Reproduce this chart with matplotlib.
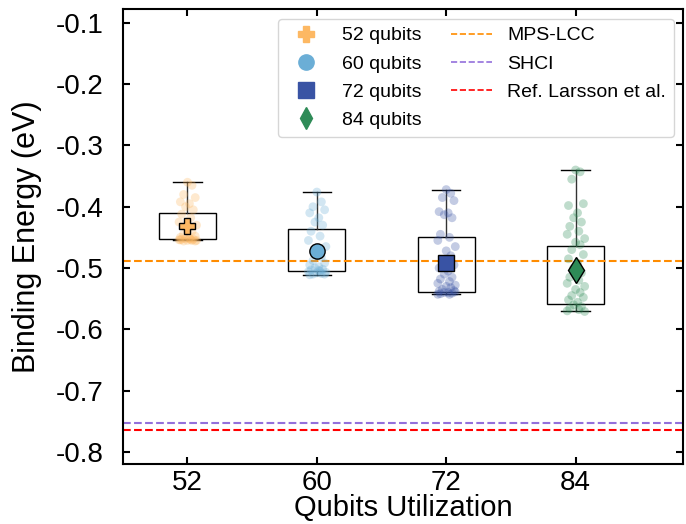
import matplotlib.pyplot as plt
from matplotlib.lines import Line2D

plt.rcParams['font.family'] = ['Liberation Sans', 'DejaVu Sans']

# Data
qubits = ['52', '60', '72', '84']
colors = ['#fdb863', '#6baed6', '#3953a4', '#2e8b57']
markers = ['P', 'o', 's', 'd']

pts_52 = [-0.360, -0.365, -0.380, -0.385, -0.392, -0.395, -0.400, -0.405, -0.412, -0.418,
          -0.425, -0.430, -0.436, -0.440, -0.445, -0.448, -0.450, -0.451, -0.452, -0.453,
          -0.453, -0.454, -0.454, -0.455, -0.455, -0.455, -0.456, -0.456, -0.454, -0.452]
pts_60 = [-0.376, -0.392, -0.400, -0.405, -0.410, -0.418, -0.425, -0.430, -0.440, -0.448,
          -0.455, -0.465, -0.475, -0.482, -0.488, -0.492, -0.495, -0.498, -0.500, -0.502,
          -0.503, -0.505, -0.506, -0.507, -0.508, -0.509, -0.510, -0.510, -0.511, -0.504]
pts_72 = [-0.372, -0.378, -0.385, -0.390, -0.408, -0.410, -0.413, -0.418, -0.445, -0.450,
          -0.455, -0.465, -0.472, -0.480, -0.488, -0.495, -0.500, -0.505, -0.510, -0.515,
          -0.518, -0.522, -0.525, -0.528, -0.530, -0.532, -0.535, -0.537, -0.538, -0.540,
          -0.540, -0.541, -0.542, -0.543, -0.543, -0.539]
pts_84 = [-0.340, -0.343, -0.355, -0.395, -0.398, -0.410, -0.418, -0.425, -0.432, -0.440,
          -0.445, -0.452, -0.458, -0.462, -0.470, -0.478, -0.485, -0.492, -0.500, -0.508,
          -0.515, -0.520, -0.525, -0.530, -0.535, -0.540, -0.545, -0.548, -0.552, -0.556,
          -0.560, -0.563, -0.566, -0.568, -0.570, -0.571]
points = [pts_52, pts_60, pts_72, pts_84]

q1 = [-0.4534, -0.5055, -0.5386, -0.558]
q3 = [-0.410, -0.437, -0.450, -0.4637]
whislo = [-0.4546, -0.511, -0.543, -0.571]
whishi = [-0.359, -0.376, -0.372, -0.340]
means = [-0.432, -0.473, -0.492, -0.503]

mps_lcc = -0.489
shci = -0.7536
ref_larsson = -0.7645

# fixed jitter pattern (style only)
jitter = [0.0, 0.035, -0.03, 0.06, -0.055, 0.015, -0.015, 0.045, -0.045, 0.025, -0.065, 0.07]

fig, ax = plt.subplots(figsize=(6.86, 5.24), dpi=100)
fig.subplots_adjust(left=0.179, right=0.9956, top=0.983, bottom=0.1145)

stats = []
for i in range(len(qubits)):
    stats.append(dict(med=q1[i], q1=q1[i], q3=q3[i], whislo=whislo[i], whishi=whishi[i], fliers=[]))
ax.bxp(stats, positions=range(len(qubits)), widths=0.44, showfliers=False, patch_artist=True,
       boxprops=dict(facecolor='none', edgecolor='black', linewidth=1.0),
       whiskerprops=dict(color='#333333', linewidth=1.0),
       capprops=dict(color='black', linewidth=1.0),
       medianprops=dict(linewidth=0))

for i, vals in enumerate(points):
    xs = [i + jitter[k % len(jitter)] for k in range(len(vals))]
    ax.scatter(xs, vals, s=40, color=colors[i], alpha=0.3, edgecolors='none', zorder=3)

for i in range(len(qubits)):
    ax.plot(i, means[i], marker=markers[i], color=colors[i], markeredgecolor='black',
            markeredgewidth=1.0, markersize=13 if markers[i] == 'd' else 11, zorder=5)

ax.axhline(mps_lcc, color='#ff8c00', linestyle='--', linewidth=1.5, zorder=2)
ax.axhline(shci, color='#9370db', linestyle='--', linewidth=1.5, zorder=2)
ax.axhline(ref_larsson, color='red', linestyle='--', linewidth=1.5, zorder=2)

ax.set_xlim(-0.5, 3.83)
ax.set_ylim(-0.82, -0.077)
ax.set_xticks(range(len(qubits)))
ax.set_xticklabels(qubits)
ax.set_yticks([-0.1, -0.2, -0.3, -0.4, -0.5, -0.6, -0.7, -0.8])
ax.set_yticklabels(['-0.1', '-0.2', '-0.3', '-0.4', '-0.5', '-0.6', '-0.7', '-0.8'])
ax.tick_params(direction='in', top=True, right=True, labelsize=20, length=5, width=1.5)
ax.tick_params(axis='x', pad=4)
ax.tick_params(axis='y', pad=14)
for s in ax.spines.values():
    s.set_linewidth(1.5)
ax.set_xlabel('Qubits Utilization', fontsize=21, labelpad=-1)
ax.set_ylabel('Binding Energy (eV)', fontsize=22, labelpad=10)

handles = [Line2D([], [], linestyle='none', marker=markers[i], color=colors[i],
                  markersize=11, label=f'{qubits[i]} qubits') for i in range(len(qubits))]
handles += [Line2D([], [], color='#ff8c00', linestyle='--', linewidth=1.2, label='MPS-LCC'),
            Line2D([], [], color='#9370db', linestyle='--', linewidth=1.2, label='SHCI'),
            Line2D([], [], color='red', linestyle='--', linewidth=1.2, label='Ref. Larsson et al.')]
ax.legend(handles=handles, ncol=2, loc='upper right', fontsize=14, frameon=True,
          bbox_to_anchor=(0.984, 0.978), borderaxespad=0, labelspacing=0.55,
          handlelength=2.1, handletextpad=0.8, columnspacing=1.5)

fig.savefig('out.png', dpi=100)
